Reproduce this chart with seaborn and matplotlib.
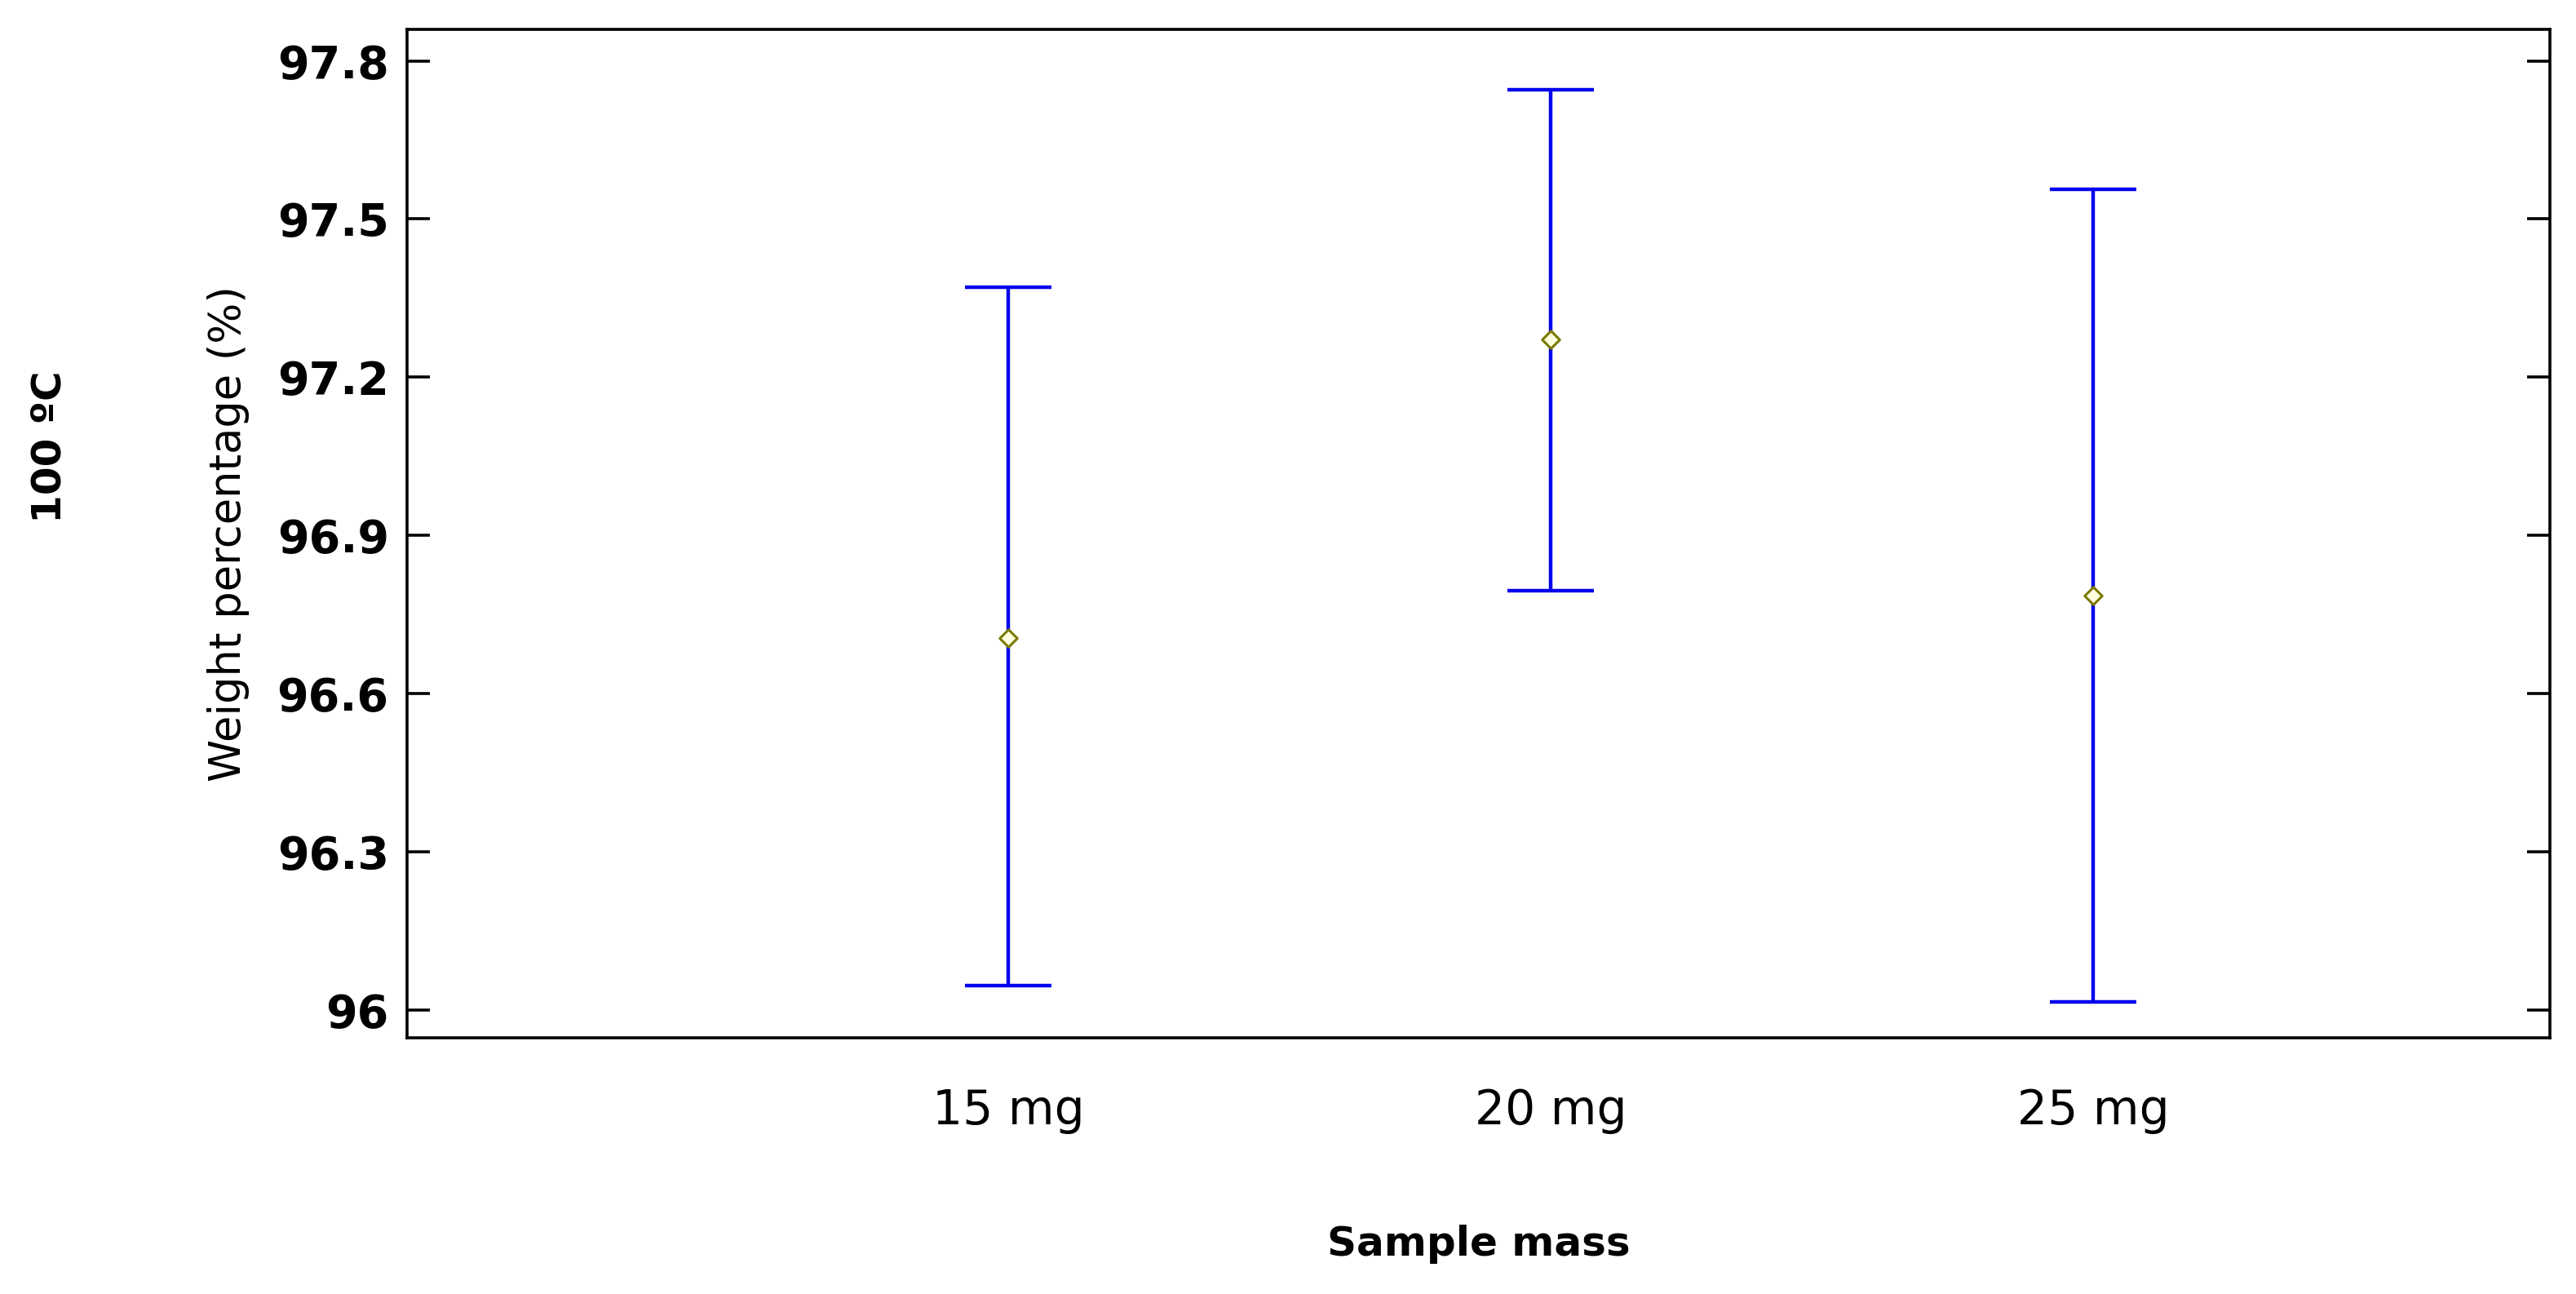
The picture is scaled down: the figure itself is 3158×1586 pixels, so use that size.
import matplotlib
matplotlib.use("Agg")
import matplotlib.pyplot as plt
import seaborn as sns
import numpy as np
import pandas as pd

categories = ["15 mg", "20 mg", "25 mg"]
means = [96.705, 97.271, 96.786]
lower = [96.046, 96.795, 96.015]
upper = [97.370, 97.745, 97.556]

sns.set_style("white")
plt.rcParams['font.family'] = ['DejaVu Sans']
plt.rcParams['text.color'] = 'black'
plt.rcParams['axes.labelcolor'] = 'black'
plt.rcParams['xtick.color'] = 'black'
plt.rcParams['ytick.color'] = 'black'

fig = plt.figure(figsize=(15.79, 7.93), dpi=200)
ax = fig.add_axes([0.158, 0.198, 0.832, 0.779])
x = np.arange(len(categories))
m = np.array(means)
ax.errorbar(x, m, yerr=[m - np.array(lower), np.array(upper) - m], fmt='none',
            ecolor='#0000ee', elinewidth=1.6, capsize=19, capthick=1.6)
df = pd.DataFrame({"x": x, "y": means})
sns.scatterplot(data=df, x="x", y="y", ax=ax, marker='D', s=30,
                color='#ffffe0', edgecolor='#7a7a00', linewidth=1.1, zorder=3)
ax.set_xlim(-1.109, 2.842)
ax.set_ylim(95.947, 97.859)
ax.set_yticks([96, 96.3, 96.6, 96.9, 97.2, 97.5, 97.8])
ax.set_yticklabels(["96", "96.3", "96.6", "96.9", "97.2", "97.5", "97.8"],
                   fontsize=20, fontweight='bold')
ax.set_xticks(x)
ax.set_xticklabels(categories, fontsize=21)
ax.tick_params(axis='x', length=0, pad=22)
ax.tick_params(axis='y', direction='in', length=10, width=1.3, right=True, left=True, pad=8)
for s in ax.spines.values():
    s.set_linewidth(1.3)
    s.set_color('black')
ax.set_xlabel("Sample mass", fontsize=18, fontweight='bold', labelpad=40)
ax.set_ylabel("Weight percentage (%)", fontsize=19, labelpad=12)
fig.text(0.019, 0.655, "100 ºC", rotation=90, fontsize=18, fontweight='bold',
         ha='center', va='center')
fig.savefig("out.png", dpi=200)
